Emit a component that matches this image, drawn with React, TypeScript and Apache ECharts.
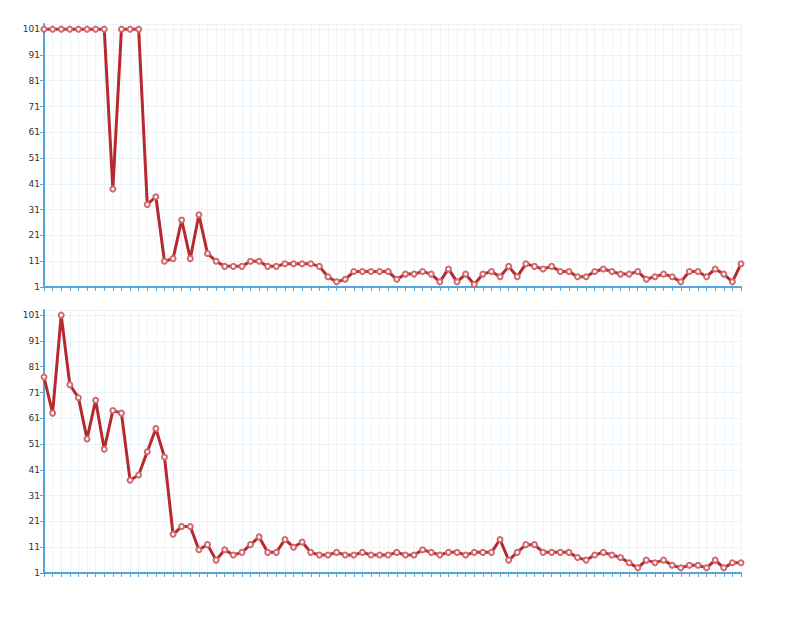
import React, { useEffect, useRef } from "react";
import * as echarts from "echarts";

const categories: string[] = Array.from({ length: 82 }, (_, i) => String(i + 1));

const topSeries: number[] = [
  101, 101, 101, 101, 101, 101, 101, 101, 39, 101,
  101, 101, 33, 36, 11, 12, 27, 12, 29, 14,
  11, 9, 9, 9, 11, 11, 9, 9, 10, 10,
  10, 10, 9, 5, 3, 4, 7, 7, 7, 7,
  7, 4, 6, 6, 7, 6, 3, 8, 3, 6,
  2, 6, 7, 5, 9, 5, 10, 9, 8, 9,
  7, 7, 5, 5, 7, 8, 7, 6, 6, 7,
  4, 5, 6, 5, 3, 7, 7, 5, 8, 6,
  3, 10,
];

const bottomSeries: number[] = [
  77, 63, 101, 74, 69, 53, 68, 49, 64, 63,
  37, 39, 48, 57, 46, 16, 19, 19, 10, 12,
  6, 10, 8, 9, 12, 15, 9, 9, 14, 11,
  13, 9, 8, 8, 9, 8, 8, 9, 8, 8,
  8, 9, 8, 8, 10, 9, 8, 9, 9, 8,
  9, 9, 9, 14, 6, 9, 12, 12, 9, 9,
  9, 9, 7, 6, 8, 9, 8, 7, 5, 3,
  6, 5, 6, 4, 3, 4, 4, 3, 6, 3,
  5, 5,
];

const AXIS_BLUE = "#56a6dc";
const GRID_LINE = "#e9f3f8";
const LINE_RED = "#b8292f";
const SYMBOL_RED = "#d06a6e";

function makeXAxis(gridIndex: number) {
  return {
    type: "category" as const,
    gridIndex,
    data: categories,
    boundaryGap: false,
    axisLine: { show: true, lineStyle: { color: AXIS_BLUE, width: 2 } },
    axisTick: { show: true, interval: 0, length: 4, lineStyle: { color: AXIS_BLUE, width: 1 } },
    axisLabel: { show: false },
    splitLine: { show: true, interval: 0, lineStyle: { color: GRID_LINE, width: 1 } },
  };
}

function makeYAxis(gridIndex: number) {
  return {
    type: "value" as const,
    gridIndex,
    min: 1,
    max: 103,
    interval: 10,
    axisLine: { show: true, lineStyle: { color: AXIS_BLUE, width: 2 } },
    axisTick: { show: true, length: 4, lineStyle: { color: AXIS_BLUE } },
    axisLabel: {
      show: true,
      showMaxLabel: false,
      color: "#333",
      fontSize: 9,
      fontFamily: "DejaVu Sans",
      margin: 4,
    },
    splitLine: { show: true, lineStyle: { color: GRID_LINE, width: 1 } },
  };
}

function makeSeries(data: number[], idx: number) {
  return {
    type: "line" as const,
    xAxisIndex: idx,
    yAxisIndex: idx,
    data,
    symbol: "emptyCircle",
    symbolSize: 5,
    showSymbol: true,
    showAllSymbol: true,
    lineStyle: { color: LINE_RED, width: 3 },
    itemStyle: { color: SYMBOL_RED, borderColor: SYMBOL_RED, borderWidth: 1 },
  };
}

export default function App() {
  const ref = useRef<HTMLDivElement>(null);
  useEffect(() => {
    if (!ref.current) return;
    const chart = echarts.init(ref.current, undefined, { renderer: "svg" });
    chart.setOption({
      animation: false,
      backgroundColor: "#fff",
      grid: [
        { left: 44, right: 49, top: 24, height: 263 },
        { left: 44, right: 49, top: 310, height: 263 },
      ],
      xAxis: [makeXAxis(0), makeXAxis(1)],
      yAxis: [makeYAxis(0), makeYAxis(1)],
      series: [makeSeries(topSeries, 0), makeSeries(bottomSeries, 1)],
    });
    return () => chart.dispose();
  }, []);
  return (
    <div
      ref={ref}
      style={{ position: "absolute", left: 0, top: 0, width: 790, height: 624 }}
    />
  );
}
